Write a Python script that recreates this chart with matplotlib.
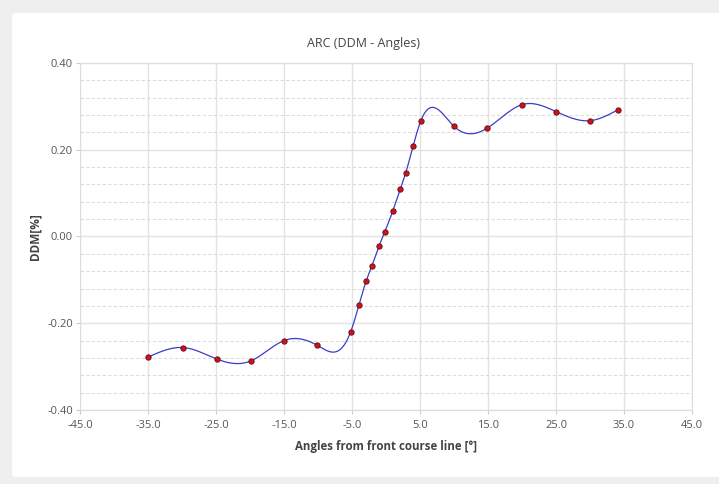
import numpy as np
import matplotlib
matplotlib.use("Agg")
import matplotlib.pyplot as plt
from matplotlib.patches import FancyBboxPatch
from matplotlib.ticker import MultipleLocator, FormatStrFormatter

# Measured ARC points: angle from front course line [deg] vs DDM [%]
angles = [-35.0, -29.8, -24.8, -19.9, -15.0, -10.1, -5.2, -4.0, -2.9, -2.1,
          -1.0, -0.2, 1.0, 2.1, 2.9, 4.0, 5.1, 10.0, 14.9, 20.0, 25.0, 30.0, 34.1]
ddm = [-0.278, -0.256, -0.283, -0.287, -0.240, -0.251, -0.220, -0.159, -0.102,
       -0.069, -0.021, 0.010, 0.059, 0.109, 0.147, 0.209, 0.266, 0.254, 0.250,
       0.304, 0.288, 0.267, 0.292]

x_ticks = [-45.0, -35.0, -25.0, -15.0, -5.0, 5.0, 15.0, 25.0, 35.0, 45.0]
y_ticks = [-0.40, -0.20, 0.00, 0.20, 0.40]


def natural_spline(x, y, n=1500):
    """Natural cubic spline through (x, y), evaluated on a dense grid."""
    x = np.asarray(x, float)
    y = np.asarray(y, float)
    k = len(x)
    h = np.diff(x)
    A = np.zeros((k, k))
    r = np.zeros(k)
    A[0, 0] = A[-1, -1] = 1.0
    for i in range(1, k - 1):
        A[i, i - 1] = h[i - 1]
        A[i, i] = 2 * (h[i - 1] + h[i])
        A[i, i + 1] = h[i]
        r[i] = 3 * ((y[i + 1] - y[i]) / h[i] - (y[i] - y[i - 1]) / h[i - 1])
    c = np.linalg.solve(A, r)
    b = (y[1:] - y[:-1]) / h - h * (2 * c[:-1] + c[1:]) / 3
    d = (c[1:] - c[:-1]) / (3 * h)
    xs = np.linspace(x[0], x[-1], n)
    idx = np.clip(np.searchsorted(x, xs) - 1, 0, k - 2)
    t = xs - x[idx]
    ys = y[idx] + b[idx] * t + c[idx] * t ** 2 + d[idx] * t ** 3
    return xs, ys


plt.rcParams['font.family'] = ['Open Sans', 'DejaVu Sans']

W, H = 719, 484
fig = plt.figure(figsize=(W / 100, H / 100), dpi=100)
fig.patch.set_facecolor('#efefef')

# white rounded panel behind the chart
panel = FancyBboxPatch((12 / W, (H - 477) / H), (W - 12) / W + 0.02, (477 - 13) / H,
                       boxstyle="round,pad=0,rounding_size=0.006",
                       transform=fig.transFigure, facecolor='white',
                       edgecolor='none', zorder=-10)
fig.patches.append(panel)

ax = fig.add_axes([80 / W, 1 - 410 / H, (692 - 80) / W, (410 - 63) / H])
ax.set_facecolor('white')

xs, ys = natural_spline(angles, ddm)
ax.plot(xs, ys, color='#3c3cc8', lw=0.9, zorder=3)
ax.plot(angles, ddm, linestyle='none', marker='o', ms=3.8,
        mfc='#d0101a', mec='#701018', mew=0.7, zorder=4)

ax.set_xlim(-45, 45)
ax.set_ylim(-0.40, 0.40)
ax.set_xticks(x_ticks)
ax.set_yticks(y_ticks)
ax.xaxis.set_major_formatter(FormatStrFormatter('%.1f'))
ax.yaxis.set_major_formatter(FormatStrFormatter('%.2f'))
ax.yaxis.set_minor_locator(MultipleLocator(0.04))

ax.grid(True, which='major', color='#e3e3e3', lw=1.0, ls='-')
ax.grid(True, which='minor', axis='y', color='#dcdcdc', lw=0.8, ls=(0, (3, 2)))
ax.set_axisbelow(True)

for s in ax.spines.values():
    s.set_color('#dddddd')
    s.set_linewidth(0.8)

ax.tick_params(axis='both', which='major', length=3, width=0.8, color='#cccccc',
               labelsize=8, labelcolor='#555555', pad=2)
ax.tick_params(axis='x', pad=4)
ax.tick_params(axis='both', which='minor', length=0)

ax.set_xlabel('Angles from front course line [°]', fontsize=8.3, fontweight='bold',
              color='#444444', labelpad=7)
ax.set_ylabel('DDM[%]', fontsize=8.5, fontweight='bold', color='#444444', labelpad=4)

fig.text(364 / W, 1 - 44 / H, 'ARC (DDM - Angles)', ha='center', va='center',
         fontsize=9, color='#444444')

fig.savefig('out.png', dpi=100, facecolor=fig.get_facecolor())
